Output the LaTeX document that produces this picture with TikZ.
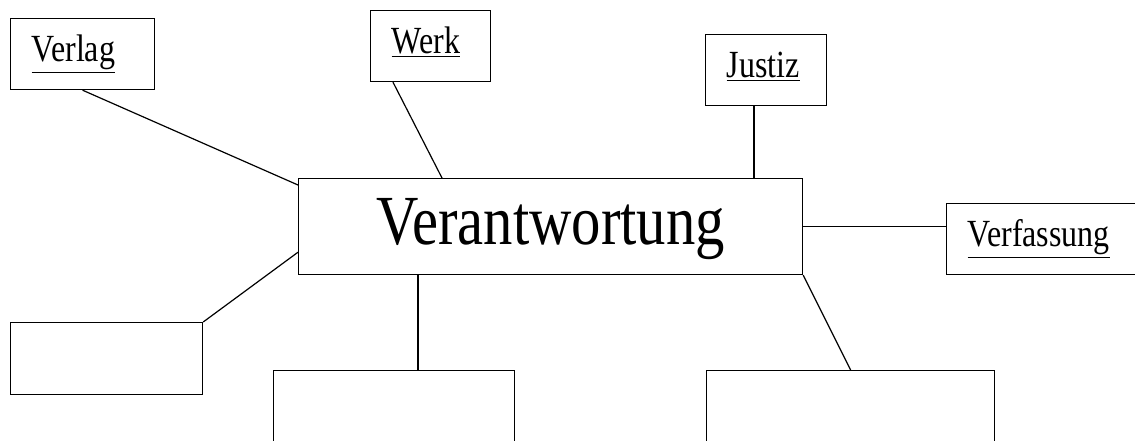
\documentclass[tikz,border=0pt]{standalone}
\usepackage{fontspec}
\setmainfont{Liberation Serif}
\usetikzlibrary{calc}

\newcommand{\tall}[1]{\scalebox{1}[1.2]{#1}}

\tikzset{
  box/.style={draw, line width=0.9pt, anchor=north west, inner sep=0pt},
  tagbox/.style={box, inner xsep=15.75pt, text height=32.25pt, text depth=21pt,
    align=left, font=\fontsize{24}{28}\selectfont},
  link/.style={line width=0.9pt},
}

\begin{document}
\begin{tikzpicture}[x=0.75pt, y=-0.75pt]
            % page
            \useasboundingbox (0, 0) rectangle (1135, 440);
            \clip (0, 0) rectangle (1135, 440);

            % main box
            \node[box, minimum width=378pt, text height=49.5pt, text depth=22.5pt,
              font=\fontsize{44}{50}\selectfont] (center) at (298, 178) {\tall{Verantwortung}};

            % labelled boxes
            \node[tagbox, text width=76.5pt] (verlag) at (10, 18) {\tall{\underline{Verlag}}};
            \node[tagbox, text width=58.5pt] (werk) at (370, 10) {\tall{\underline{Werk}}};
            \node[tagbox, text width=59.25pt] (justiz) at (705, 34) {\tall{\underline{Justiz}}};
            \node[tagbox, text width=110pt] (verfassung) at (946, 203) {\tall{\underline{Verfassung}}};

            % empty boxes
            \node[box, minimum width=144pt, minimum height=54pt] (left) at (10, 322) {};
            \node[box, minimum width=180.75pt, minimum height=75pt] (botleft) at (273, 370) {};
            \node[box, minimum width=216pt, minimum height=75pt] (botright) at (706, 370) {};

            % lines
            \draw[link] (verlag.south) -- ($(center.north west)+(0, 7)$);
            \draw[link] ($(werk.south west)+(23, 0)$) -- ($(center.north west)+(144, 0)$);
            \coordinate (jfoot) at ($(justiz.south west)+(49, 0)$);
            \draw[link] (jfoot) -- (jfoot |- center.north);
            \draw[link] (center.east) -- (center.east -| verfassung.west);
            \draw[link] (left.north east) -- ($(center.south west)+(0, -23)$);
            \coordinate (mid) at ($(center.south west)+(120, 0)$);
            \draw[link] (mid) -- (mid |- botleft.north);
            \draw[link] (center.south east) -- (botright.north);
\end{tikzpicture}
\end{document}
